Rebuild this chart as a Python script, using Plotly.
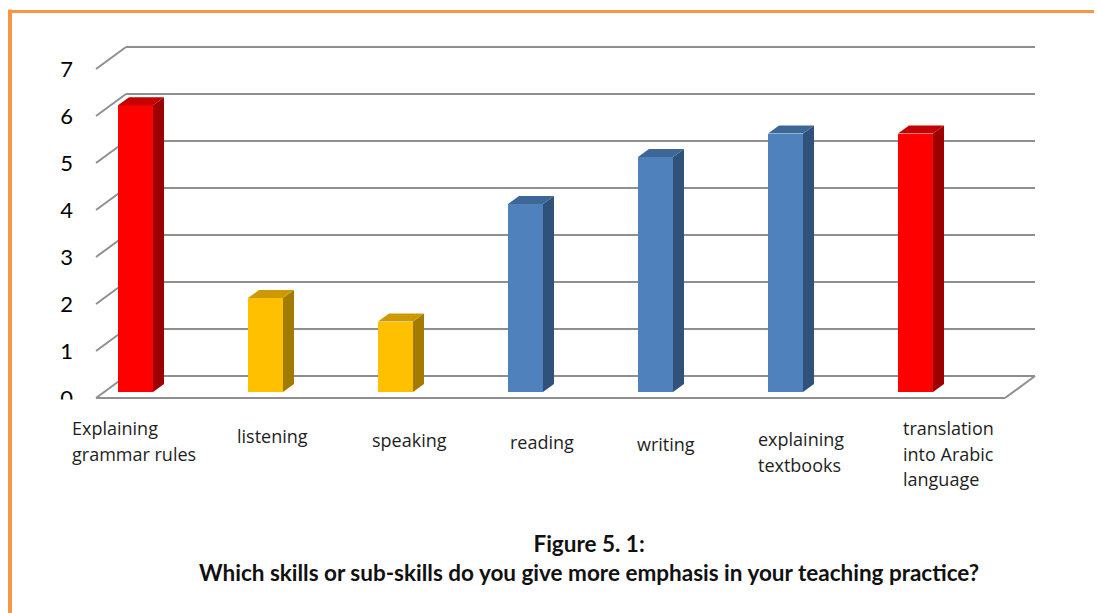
import plotly.graph_objects as go

# ---------------- data ----------------
categories = ["Explaining\ngrammar rules", "listening", "speaking", "reading",
              "writing", "explaining\ntextbooks", "translation\ninto Arabic\nlanguage"]
values = [6.1, 2, 1.5, 4, 5, 5.5, 5.5]
y_ticks = [0, 1, 2, 3, 4, 5, 6, 7]
title_lines = ["Figure 5. 1:",
               "Which skills or sub-skills do you give more emphasis in your teaching practice?"]

# ---------------- styles ----------------
bar_groups = ["red", "yellow", "yellow", "blue", "blue", "blue", "red"]
PALETTE = {  # front, top, side
    "red": ("#FF0000", "#C40000", "#9C0000"),
    "yellow": ("#FFC000", "#CC9A00", "#A37B00"),
    "blue": ("#4F81BD", "#3D6797", "#30527A"),
}
GRID = "#8F8F8F"
ORANGE = "#F79646"

PAGE_OFF = 8                             # browser body margin
W, H = 1102 - PAGE_OFF, 613 - PAGE_OFF
# geometry below is expressed in page pixels
L, R, T, B = 86, 1045, 30, 405           # plot area
X_PX0, X_PX_PER = 135.5, 130.0           # pixel of category 0, px per category
Y_PX0, Y_PX_PER = 398.0, 47.0            # pixel of value 0 (front), px per unit

x_range = [(L - X_PX0) / X_PX_PER, (R - X_PX0) / X_PX_PER]
y_range = [(Y_PX0 - B) / Y_PX_PER, (Y_PX0 - T) / Y_PX_PER]

FL = (96 - X_PX0) / X_PX_PER             # front-left edge of floor
BR = (1035 - X_PX0) / X_PX_PER           # back-right edge of walls
DX, DY = 30 / X_PX_PER, 22 / Y_PX_PER    # wall depth
BAR_W = 35 / X_PX_PER
SDX, SDY = 11 / X_PX_PER, 8 / Y_PX_PER   # bar depth
BASE = 6 / Y_PX_PER                      # bar front plane offset


def px_to_paper_x(px):
    return (px - L) / (R - L)


def px_to_paper_y(py):
    return (B - py) / (B - T)


fig = go.Figure()

# front faces
xs = list(range(len(categories)))
fig.add_trace(go.Bar(
    x=xs, y=values, base=BASE, width=BAR_W,
    marker=dict(color=[PALETTE[g][0] for g in bar_groups], line=dict(width=0)),
    hoverinfo="skip", showlegend=False,
))

# side and top faces
for i, (v, g) in enumerate(zip(values, bar_groups)):
    x0, x1 = i - BAR_W / 2, i + BAR_W / 2
    top = BASE + v
    fig.add_trace(go.Scatter(
        x=[x1, x1 + SDX, x1 + SDX, x1, x1],
        y=[BASE, BASE + SDY, top + SDY, top, BASE],
        fill="toself", fillcolor=PALETTE[g][2], mode="lines",
        line=dict(width=0, color=PALETTE[g][2]), hoverinfo="skip", showlegend=False,
    ))
    fig.add_trace(go.Scatter(
        x=[x0, x0 + SDX, x1 + SDX, x1, x0],
        y=[top, top + SDY, top + SDY, top, top],
        fill="toself", fillcolor=PALETTE[g][1], mode="lines",
        line=dict(width=0, color=PALETTE[g][1]), hoverinfo="skip", showlegend=False,
    ))

shapes = []
# back wall gridlines and left slants
for v in y_ticks:
    shapes.append(dict(type="line", xref="x", yref="y", layer="below",
                       x0=FL + DX, y0=v + DY, x1=BR, y1=v + DY,
                       line=dict(color=GRID, width=2)))
    shapes.append(dict(type="line", xref="x", yref="y", layer="below",
                       x0=FL, y0=v, x1=FL + DX, y1=v + DY,
                       line=dict(color=GRID, width=2)))
# floor front edge and right slant
shapes.append(dict(type="line", xref="x", yref="y", layer="below",
                   x0=FL, y0=0, x1=BR - DX, y1=0, line=dict(color=GRID, width=2)))
shapes.append(dict(type="line", xref="x", yref="y", layer="below",
                   x0=BR - DX, y0=0, x1=BR, y1=DY, line=dict(color=GRID, width=2)))

# orange frame (left and top edges)
shapes.append(dict(type="line", xref="paper", yref="paper",
                   x0=px_to_paper_x(10), y0=px_to_paper_y(9.5),
                   x1=px_to_paper_x(10), y1=px_to_paper_y(640),
                   line=dict(color=ORANGE, width=4)))
shapes.append(dict(type="line", xref="paper", yref="paper",
                   x0=px_to_paper_x(8), y0=px_to_paper_y(11.5),
                   x1=px_to_paper_x(1130), y1=px_to_paper_y(11.5),
                   line=dict(color=ORANGE, width=3)))
# clip the lower part of the "0" tick label, as in the source
shapes.append(dict(type="rect", xref="paper", yref="paper", layer="above",
                   x0=px_to_paper_x(45), x1=px_to_paper_x(90),
                   y0=px_to_paper_y(413), y1=px_to_paper_y(399.5),
                   fillcolor="white", line=dict(width=0)))

annotations = []
# category labels (left aligned blocks)
label_left_px = [72, 237, 372, 510, 637, 758, 903]
label_first_y_px = [428, 436, 440, 442, 444, 439, 428]
LINE_GAP = 25.5
for i, lab in enumerate(categories):
    for k, line in enumerate(lab.split("\n")):
        annotations.append(dict(
            text=line, xref="paper", yref="paper",
            x=px_to_paper_x(label_left_px[i] - 2),
            y=px_to_paper_y(label_first_y_px[i] + k * LINE_GAP),
            xanchor="left", yanchor="middle", showarrow=False,
            font=dict(family="Open Sans", size=18, color="#1E1E1E"),
        ))

# caption (two centred lines in one text block)
annotations.append(dict(
    text="<br>".join("<b>%s</b>" % ln for ln in title_lines),
    xref="paper", yref="paper",
    x=px_to_paper_x(589), y=px_to_paper_y(558),
    xanchor="center", yanchor="middle", align="center", showarrow=False,
    font=dict(family="Lato", size=22.5, color="#111111"),
))

fig.update_layout(
    width=W, height=H,
    margin=dict(l=L - PAGE_OFF, r=W - (R - PAGE_OFF), t=T - PAGE_OFF,
                b=H - (B - PAGE_OFF), pad=0),
    paper_bgcolor="white", plot_bgcolor="white",
    xaxis=dict(range=x_range, showgrid=False, zeroline=False, showline=False,
               showticklabels=False, ticks="", fixedrange=True),
    yaxis=dict(range=y_range, tickvals=y_ticks, showgrid=False, zeroline=False,
               showline=False, ticks="", ticklabelstandoff=12,
               tickfont=dict(family="Lato", size=22, color="#000000"), fixedrange=True),
    shapes=shapes, annotations=annotations,
    bargap=0, showlegend=False,
)

fig.write_html("out.html")
